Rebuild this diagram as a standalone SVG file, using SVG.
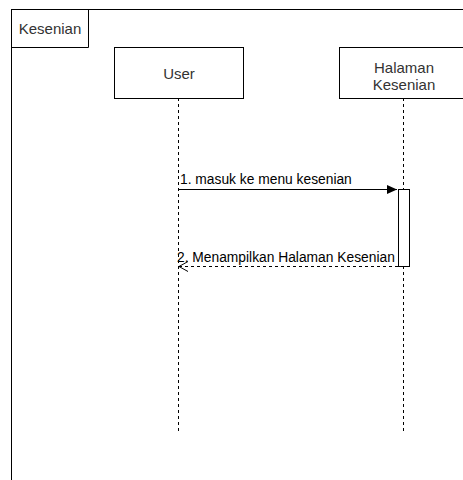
<svg xmlns="http://www.w3.org/2000/svg" width="463" height="480" viewBox="0 0 463 480">
<style>
.box{fill:#fff;stroke:#000;stroke-width:1}
.t{font-family:"Liberation Sans",Arial,sans-serif;font-size:15px;fill:#333;text-anchor:middle}
.m{font-family:"Liberation Sans",Arial,sans-serif;font-size:13.8px;fill:#000}
.life{stroke:#000;stroke-width:1;stroke-dasharray:3 3;fill:none}
</style>
<defs>
<marker id="block" markerWidth="12" markerHeight="10" refX="10" refY="4.5" orient="auto" markerUnits="userSpaceOnUse"><path d="M0,0 L10,4.5 L0,9 z" fill="#000"/></marker>
<marker id="open" markerWidth="12" markerHeight="12" refX="9" refY="5" orient="auto" markerUnits="userSpaceOnUse"><path d="M0,0 L9,5 L0,10" fill="none" stroke="#000"/></marker>
</defs>
<g id="frame">
<rect x="11.5" y="9.5" width="500" height="500" fill="#fff" stroke="#000"/>
<path d="M11.5,47.5 H88.5 V9.5" fill="none" stroke="#000"/>
<text class="t" x="50" y="33.5">Kesenian</text>
</g>
<g id="connectors">
<path class="life" d="M178.5,98 V434"/>
<path class="life" d="M403.5,98 V434"/>
<line x1="179" y1="189.5" x2="397" y2="189.5" stroke="#000" marker-end="url(#block)"/>
<text class="m" x="180" y="184">1. masuk ke menu kesenian</text>
<line x1="398" y1="266.5" x2="179" y2="266.5" stroke="#000" stroke-dasharray="3 3" marker-end="url(#open)"/>
<text class="m" x="177" y="261.5">2. Menampilkan Halaman Kesenian</text>
</g>
<g id="user">
<rect class="box" x="114.5" y="47.5" width="129" height="51"/>
<text class="t" x="179" y="78.5">User</text>
</g>
<g id="halaman">
<rect class="box" x="339.5" y="47.5" width="129" height="51"/>
<text class="t" x="404" y="73.3">Halaman</text>
<text class="t" x="404" y="89.5">Kesenian</text>
</g>
<g id="activation">
<rect class="box" x="398.5" y="189.5" width="11" height="77"/>
</g>
</svg>
